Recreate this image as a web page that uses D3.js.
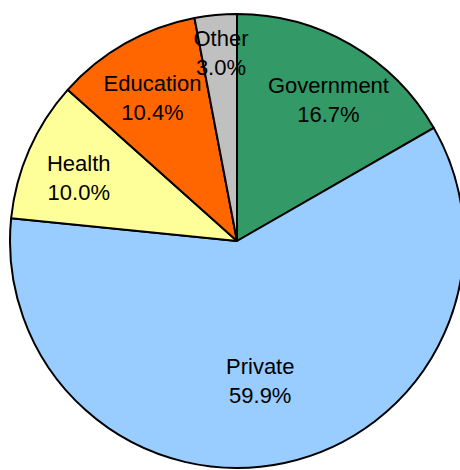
<!DOCTYPE html>
<html>
<head>
<meta charset="utf-8">
<script src="https://cdn.jsdelivr.net/npm/d3@7/dist/d3.min.js"></script>
<style>
  html, body { margin: 0; padding: 0; background: #ffffff; }
  svg { display: block; }
</style>
</head>
<body>
<div id="chart"></div>
<script>
// Share of funding by source, clockwise from 12 o'clock
const categories = ["Government", "Private", "Health", "Education", "Other"];
const shares = [16.7, 59.9, 10.0, 10.4, 3.0];
const colors = ["#339966", "#99CCFF", "#FFFF99", "#FF6600", "#C0C0C0"];

const width = 460, height = 470;
const cx = 237, cy = 241, radius = 227;

// Best-fit label placement: radius as a fraction of the pie radius,
// plus a small angular nudge (radians) off the slice's mid-angle
const labelPlacement = {
  Government: { frac: 0.74, shift: 0.051 },
  Private:    { frac: 0.625, shift: 0.046 },
  Health:     { frac: 0.75, shift: -0.037 },
  Education:  { frac: 0.73, shift: -0.02 },
  Other:      { frac: 0.83, shift: 0.009 }
};

const svg = d3.select("#chart").append("svg")
  .attr("width", width)
  .attr("height", height);

const g = svg.append("g").attr("transform", `translate(${cx},${cy})`);

const data = categories.map((c, i) => ({ name: c, value: shares[i], color: colors[i] }));

const pie = d3.pie().sort(null).value(d => d.value);
const arcs = pie(data);

const arc = d3.arc().innerRadius(0).outerRadius(radius);

g.selectAll("path.slice")
  .data(arcs)
  .join("path")
  .attr("class", "slice")
  .attr("d", arc)
  .attr("fill", d => d.data.color)
  .attr("stroke", "#000")
  .attr("stroke-width", 2)
  .attr("stroke-linejoin", "round");

const fmt = d3.format(".1f");

const labels = g.selectAll("text.label")
  .data(arcs)
  .join("text")
  .attr("class", "label")
  .attr("text-anchor", "middle")
  .attr("font-family", "Liberation Sans, Arial, sans-serif")
  .attr("font-size", 22)
  .attr("fill", "#000")
  .attr("transform", d => {
    const p = labelPlacement[d.data.name];
    const a = (d.startAngle + d.endAngle) / 2 + p.shift;
    const r = radius * p.frac;
    return `translate(${r * Math.sin(a)},${-r * Math.cos(a)})`;
  });

labels.append("tspan")
  .attr("x", 0)
  .attr("y", -14.5)
  .attr("dominant-baseline", "central")
  .text(d => d.data.name);

labels.append("tspan")
  .attr("x", 0)
  .attr("y", 14.5)
  .attr("dominant-baseline", "central")
  .text(d => fmt(d.data.value) + "%");
</script>
</body>
</html>
